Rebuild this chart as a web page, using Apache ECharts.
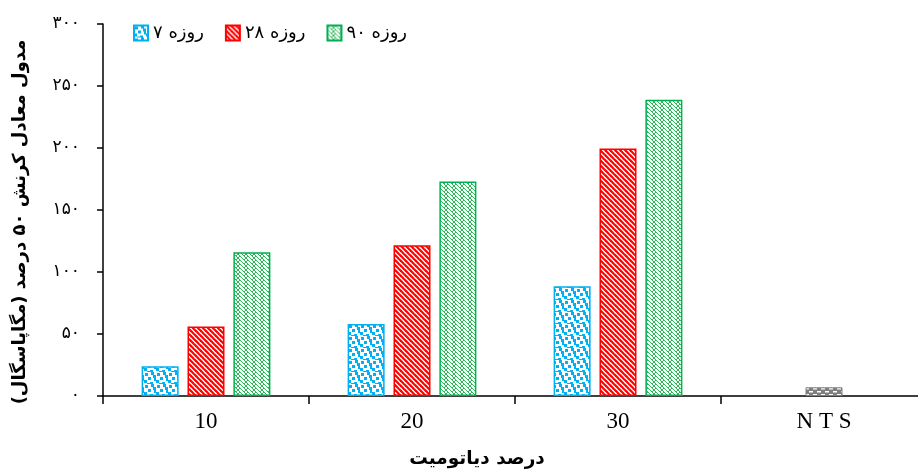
<!DOCTYPE html>
<html><head><meta charset="utf-8">
<script src="https://cdn.jsdelivr.net/npm/echarts@6/dist/echarts.min.js"></script>
<style>html,body{margin:0;padding:0;background:#fff}#c{width:918px;height:473px}</style>
</head><body><div id="c"></div>
<script>
const categories = ['10', '20', '30', 'N T S'];
const days7 = [24, 58, 88.5, '-'];
const days28 = [56, 121.5, 199.5, '-'];
const days90 = [116, 173, 239, '-'];
const ntsValues = ['-', '-', '-', 7];
const seriesNames = ['۷ روزه', '۲۸ روزه', '۹۰ روزه', 'NTS'];
const xTitle = 'درصد دیاتومیت';
const yTitle = 'مدول معادل کرنش ۵۰ درصد (مگاپاسگال)';

const fa = s => String(s).replace(/\d/g, d => '۰۱۲۳۴۵۶۷۸۹'[d]);

function tile(w, h, draw) {
  const c = document.createElement('canvas');
  c.width = w; c.height = h;
  const g = c.getContext('2d');
  draw(g, w, h);
  return { image: c, repeat: 'repeat' };
}
const bluePat = tile(12, 12, (g) => {
  g.fillStyle = '#fff'; g.fillRect(0, 0, 12, 12);
  g.fillStyle = '#00B0F0';
  [[1,1],[7,0],[4,5],[10,6],[0,8],[6,10],[9,3],[3,11]].forEach(([x,y]) => g.fillRect(x, y, 3, 3));
});
const redPat = tile(5, 5, (g) => {
  g.fillStyle = '#fff'; g.fillRect(0, 0, 5, 5);
  g.strokeStyle = '#FF0000'; g.lineWidth = 2.2;
  for (let k = -1; k <= 1; k++) {
    g.beginPath(); g.moveTo(k * 5 - 1, -1); g.lineTo(k * 5 + 6, 6); g.stroke();
  }
});
const greenPat = tile(8, 4, (g) => {
  g.fillStyle = '#fff'; g.fillRect(0, 0, 8, 4);
  g.fillStyle = '#2DB85A';
  for (let r = 0; r < 4; r++) {
    g.fillRect(r, r, 1, 1);
    g.fillRect(7 - r, r, 1, 1);
    g.fillRect((r + 4) % 8, r, 1, 1);
  }
});
const grayPat = tile(8, 6, (g) => {
  g.fillStyle = '#7F7F7F'; g.fillRect(0, 0, 8, 6);
  g.fillStyle = '#fff';
  g.fillRect(1, 1, 4, 1.5); g.fillRect(5, 4, 4, 1.5); g.fillRect(-3, 4, 4, 1.5);
});

const chart = echarts.init(document.getElementById('c'), null, { renderer: 'canvas' });
const barW = 37;
chart.setOption({
  animation: false,
  backgroundColor: '#fff',
  grid: { left: 103, top: 24, right: -9, bottom: 77, containLabel: false, outerBoundsMode: 'none' },
  legend: {
    data: seriesNames.slice(0, 3),
    left: 128, top: 19,
    itemWidth: 14, itemHeight: 15, itemGap: 21,
    icon: 'rect',
    textStyle: { fontFamily: 'DejaVu Sans', fontSize: 18, color: '#000' }
  },
  xAxis: {
    type: 'category',
    data: categories,
    axisLine: { lineStyle: { color: '#000', width: 1.5 } },
    axisTick: { show: true, length: 8, lineStyle: { color: '#000', width: 1.5 } },
    axisLabel: { fontFamily: 'Liberation Serif', fontSize: 23, color: '#000', margin: 14 }
  },
  yAxis: {
    type: 'value', min: 0, max: 300, interval: 50,
    splitLine: { show: false },
    axisLine: { show: true, lineStyle: { color: '#000', width: 1.5 } },
    axisTick: { show: true, length: 6, lineStyle: { color: '#000', width: 1.5 } },
    axisLabel: { formatter: v => fa(v), fontFamily: 'DejaVu Sans', fontSize: 17, color: '#000', margin: 23 }
  },
  graphic: [
    { type: 'text', x: 20, y: 222, rotation: Math.PI / 2,
      style: { text: yTitle, fontFamily: 'DejaVu Sans', fontWeight: 'bold', fontSize: 18, fill: '#000', textAlign: 'center', textVerticalAlign: 'middle' } },
    { type: 'text', x: 477, y: 459,
      style: { text: xTitle, fontFamily: 'DejaVu Sans', fontWeight: 'bold', fontSize: 18.5, fill: '#000', textAlign: 'center', textVerticalAlign: 'middle' } }
  ],
  series: [
    { name: seriesNames[0], type: 'bar', data: days7, barWidth: barW,
      itemStyle: { color: bluePat, borderColor: '#00B0F0', borderWidth: 1.5 } },
    { name: seriesNames[1], type: 'bar', data: days28, barWidth: barW, stack: 'mid',
      itemStyle: { color: redPat, borderColor: '#FF0000', borderWidth: 1.5 } },
    { name: seriesNames[3], type: 'bar', data: ntsValues, barWidth: barW, stack: 'mid',
      itemStyle: { color: grayPat, borderColor: '#7F7F7F', borderWidth: 1 } },
    { name: seriesNames[2], type: 'bar', data: days90, barWidth: barW, barGap: '24%',
      itemStyle: { color: greenPat, borderColor: '#00B050', borderWidth: 1.5 } }
  ]
});
</script></body></html>
